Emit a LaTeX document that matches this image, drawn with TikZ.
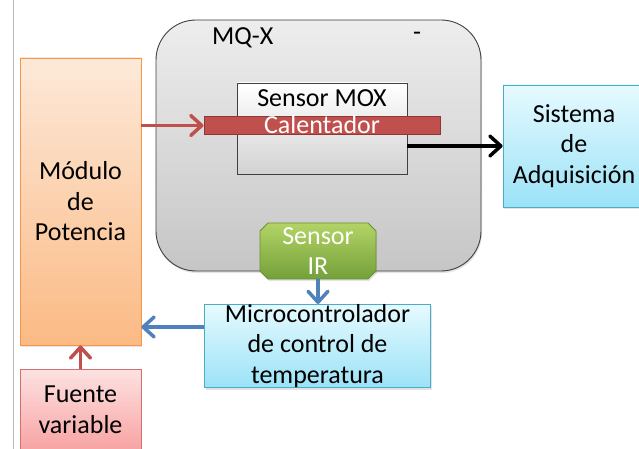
\documentclass[tikz,border=0pt]{standalone}
\usepackage{fontspec}
\setmainfont{Carlito}
\usetikzlibrary{arrows.meta,shapes.misc,shadows}

\definecolor{boxline}{HTML}{404040}
\definecolor{heatred}{HTML}{C0504D}
\definecolor{heatdark}{HTML}{8C3836}
\definecolor{irtop}{HTML}{B3D465}
\definecolor{irbot}{HTML}{74A03A}
\definecolor{irline}{HTML}{6A8F35}
\definecolor{cyantop}{HTML}{E6FAFF}
\definecolor{cyanbot}{HTML}{9BE2F7}
\definecolor{cyanline}{HTML}{4BACC6}
\definecolor{orangetop}{HTML}{FDE9D9}
\definecolor{orangebot}{HTML}{FBBA84}
\definecolor{orangeline}{HTML}{F79646}
\definecolor{pinktop}{HTML}{FDE2E2}
\definecolor{pinkbot}{HTML}{F8A3A3}
\definecolor{pinkline}{HTML}{D07070}
\definecolor{wirered}{HTML}{C0504D}
\definecolor{wireblue}{HTML}{4F81BD}

\tikzset{
  txt/.style={font=\fontsize{26}{30.5}\selectfont, align=center, inner sep=0pt},
  softshadow/.style={drop shadow={opacity=0.22, shadow xshift=1pt, shadow yshift=-2pt}},
  block/.style={txt, draw, line width=0.8pt, softshadow},
  cyanbox/.style={block, draw=cyanline, top color=cyantop, bottom color=cyanbot},
  wire/.style={line width=3.5pt,
    -{Straight Barb[length=11pt,width=20pt,line cap=round,line join=round]}},
}

\begin{document}
\begin{tikzpicture}[x=1pt,y=-1pt]
  \useasboundingbox (0,0) rectangle (639,449);
  \fill[white] (0,0) rectangle (639,449);

  % thin rule along the left margin
  \draw[gray!55, line width=0.8pt] (13,0) -- (13,449);

  % MQ-X housing
  \node[draw=boxline, line width=0.9pt, rounded corners=40pt,
        top color=gray!14, bottom color=gray!45, softshadow,
        minimum width=325pt, minimum height=251pt] (mqx) at (318.5,145.5) {};
  \node[txt, anchor=west] (mqxname) at (212,38) {MQ-X};
  \node[txt] (mqxdash) at (417,36) {-};

  % MOX sensor with its heater
  \node[draw=boxline, line width=0.8pt, top color=white, bottom color=gray!35,
        minimum width=170pt, minimum height=91pt] (mox) at (322,128.5) {};
  \node[txt] (moxname) at (322,98) {Sensor MOX};
  \node[txt, fill=heatred, draw=heatdark, line width=1pt, text=white,
        minimum width=236pt, text height=17pt, text depth=1pt]
        (cal) at (322,125.5) {Calentador};

  % IR sensor
  \node[block, chamfered rectangle, chamfered rectangle angle=45,
        chamfered rectangle sep=4pt,
        draw=irline, top color=irtop, bottom color=irbot, text=white,
        minimum width=116pt, minimum height=56pt] (ir) at (318,251) {Sensor\\IR};

  % power module, supply, controller, acquisition
  \node[block, draw=orangeline, top color=orangetop, bottom color=orangebot,
        minimum width=121pt, minimum height=287pt] (mod) at (80.5,201.5)
        {Módulo\\de\\Potencia};
  \node[block, draw=pinkline, top color=pinktop, bottom color=pinkbot,
        minimum width=121pt, minimum height=81pt] (fuente) at (80.5,409.5)
        {Fuente\\variable};
  \node[cyanbox, minimum width=226pt, minimum height=82pt] (micro) at (317.5,346)
        {Microcontrolador\\de control de\\temperatura};
  \node[cyanbox, minimum width=142pt, minimum height=122pt] (sis) at (574,146)
        {Sistema\\de\\Adquisición};

  % connections
  \draw[wire, wirered] (mod.east |- cal.west) -- (cal.west);
  \draw[wire, black] (mox.east |- sis.west) -- (sis.west);
  \draw[wire, wireblue] (ir.south) -- (ir.south |- micro.north);
  \draw[wire, wireblue] (micro.west |- 0,327) -- (mod.east |- 0,327);
  \draw[wire, wirered] (fuente.north) -- (mod.south);
\end{tikzpicture}
\end{document}
